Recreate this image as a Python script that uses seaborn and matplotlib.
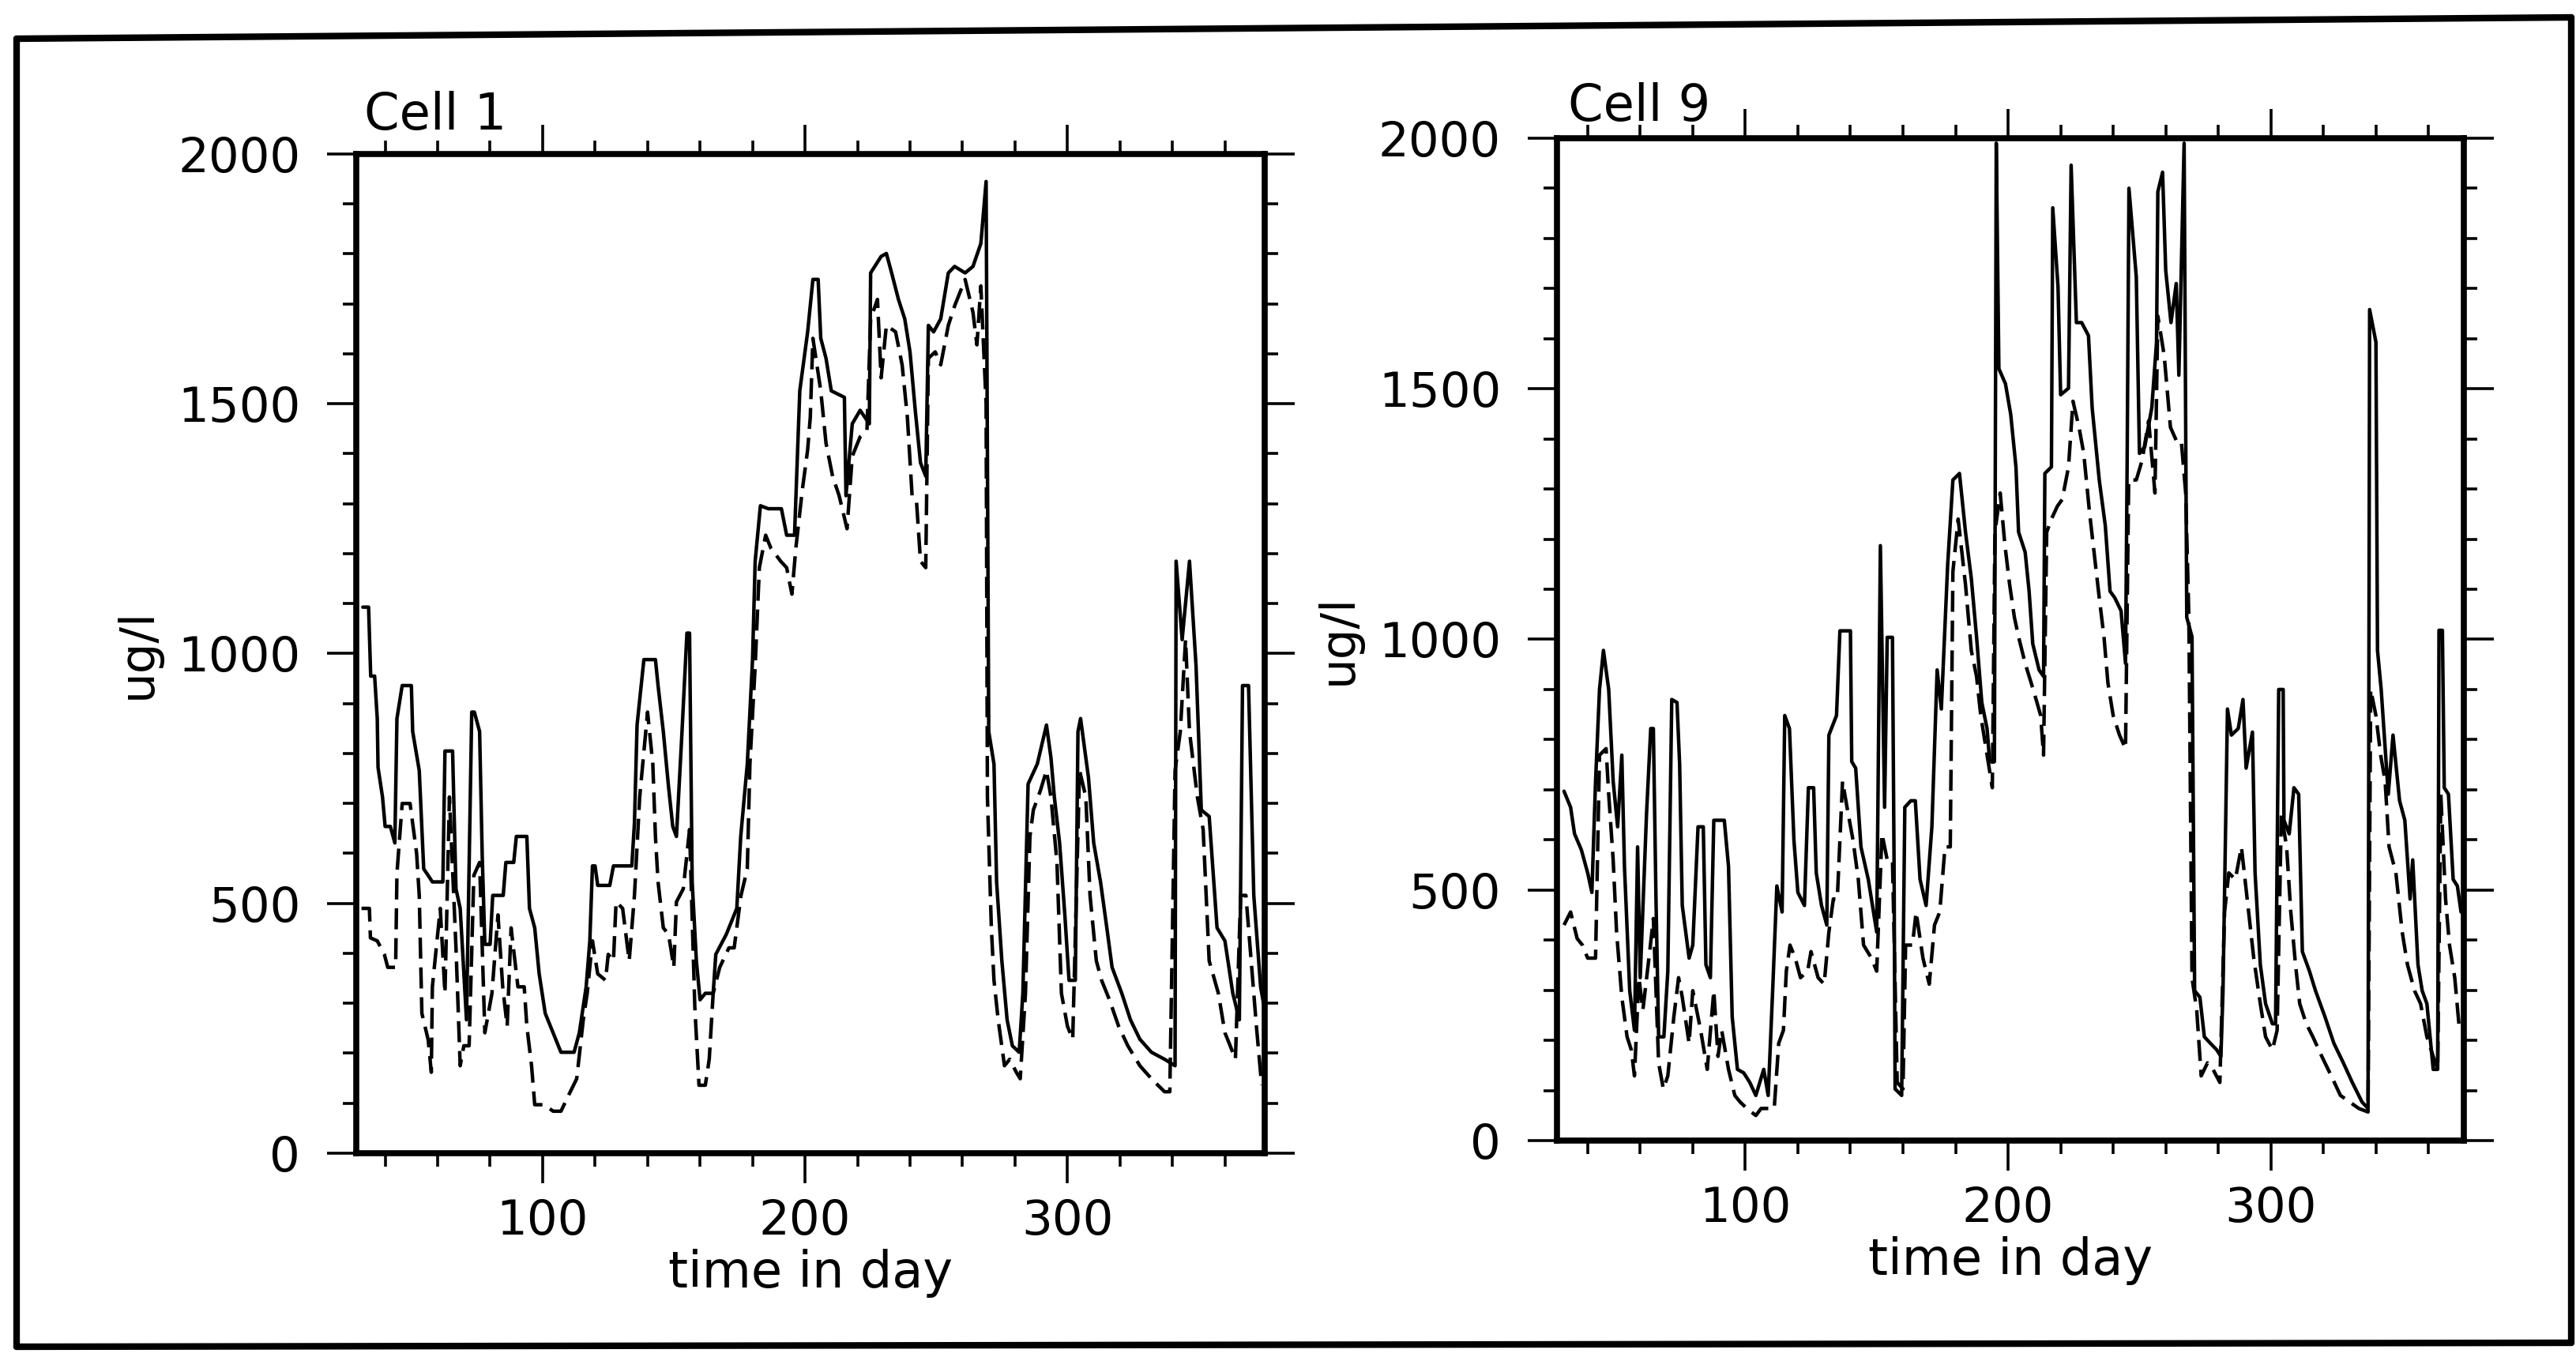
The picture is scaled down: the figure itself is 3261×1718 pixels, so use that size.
import numpy as np
import pandas as pd
import matplotlib
matplotlib.use('Agg')
import matplotlib.pyplot as plt
from matplotlib.lines import Line2D
from matplotlib.ticker import MultipleLocator
import seaborn as sns

# values (day, ug/l)
cell1_solid_day = [31.5, 33.7, 34.5, 36, 37, 37.3, 39, 40, 42, 43.7, 44.5, 46.5, 50, 50.5, 53, 54.7, 56.4, 58, 62,
                   62.8, 65.7, 67, 68.6, 71, 73, 74, 76, 77, 78, 80, 81, 85, 86, 89, 90, 94, 95, 97, 98.7, 101, 104,
                   107, 112, 114, 116.6, 118, 119, 120, 121, 125.6, 127, 134, 135, 136, 138.6, 143, 144, 146, 148,
                   149.6, 151, 153, 155, 156, 157, 158.6, 160, 162, 165, 166, 170, 174, 175.5, 178, 180, 181, 183,
                   186, 191, 193, 196, 197, 198, 201, 203, 205, 206, 208, 210, 215, 215.6, 218, 221, 224.5, 225,
                   229, 231, 233, 235.6, 238, 240, 242, 244, 246, 247, 249, 251.7, 254.6, 257, 261, 264, 267, 269,
                   270, 272, 273, 275, 277, 279, 281.6, 283, 285, 288.5, 292, 293.7, 295, 297, 299, 300.6, 303, 304,
                   305, 308, 310, 312.6, 315, 317, 320.7, 324, 327.6, 332, 337, 341, 341.4, 343.7, 346.5, 349, 351,
                   354, 357, 360, 363, 365.5, 366.7, 369, 371, 373.6, 374.7]
cell1_solid_val = [1093, 1093, 955, 955, 870, 772, 713, 654, 654, 621, 870, 936, 936, 844, 766, 569, 556, 543, 543,
                   805, 805, 529, 490, 267, 883, 883, 844, 595, 418, 418, 516, 516, 582, 582, 634, 634, 490, 451, 359,
                   280, 241, 202, 202, 241, 333, 425, 575, 575, 536, 536, 575, 575, 661, 857, 988, 988, 936, 844, 733,
                   654, 634, 831, 1041, 1041, 543, 385, 307, 320, 320, 398, 438, 490, 634, 779, 988, 1185, 1296,
                   1290, 1290, 1237, 1237, 1382, 1526, 1644, 1749, 1749, 1631, 1591, 1526, 1513, 1316, 1460, 1487,
                   1460, 1762, 1795, 1801, 1762, 1709, 1670, 1604, 1487, 1382, 1355, 1657, 1644, 1670, 1762, 1775,
                   1762, 1775, 1821, 1945, 844, 779, 543, 385, 267, 215, 202, 320, 739, 779, 857, 792, 713, 621, 477,
                   346, 346, 844, 870, 752, 621, 543, 451, 372, 320, 267, 228, 202, 188, 175, 1185, 1028, 1185, 975,
                   687, 674, 451, 425, 320, 267, 936, 936, 516, 333, 300]

cell1_dash_day = [31, 34, 34.4, 37, 39.7, 41, 44, 44.5, 46.5, 49.5, 52, 53, 54, 56.4, 57.6, 58, 61, 62.8, 64.5, 67,
                  68.6, 70, 72, 73.8, 76, 78, 80.7, 83, 84.8, 86.5, 88, 90.6, 93, 94, 95.8, 97, 100.7, 104, 107, 110,
                  113, 115.5, 117, 119, 121, 124, 125, 127, 128, 130.5, 133, 135, 137, 140, 142, 143, 144, 146, 148,
                  150, 151, 153.6, 156, 158, 159.6, 162, 163.5, 165, 167.5, 171, 173, 175.6, 178, 179, 181, 182.6,
                  185, 187, 190.7, 193, 195, 196.5, 199, 201, 202, 203, 206, 208, 210.5, 213, 216, 218, 221, 223.6,
                  225, 227.6, 229, 231, 234.5, 237, 239, 240.8, 242.5, 244, 246, 247, 249.6, 251.7, 254.6, 257, 261,
                  264, 265.5, 267, 269, 269.5, 271, 272, 273.6, 276, 278, 280.5, 282, 284, 285.7, 287, 289.7, 292,
                  293.7, 296, 297.7, 300, 302, 304.6, 307, 308.6, 311, 313, 316, 319.5, 323, 327.6, 332, 337, 339,
                  341, 343, 345, 346.5, 349.5, 351.7, 354, 357.5, 360, 362, 364, 366, 368, 370, 372, 374]
cell1_dash_val = [490, 490, 431, 425, 398, 372, 372, 560, 700, 700, 600, 516, 280, 227, 162, 333, 490, 320, 713, 411,
                  175, 215, 215, 556, 582, 241, 320, 477, 333, 254, 451, 333, 333, 254, 175, 97, 97, 84, 84, 117,
                  149, 267, 320, 425, 359, 346, 398, 385, 503, 490, 385, 516, 713, 883, 779, 634, 543, 451, 438, 372,
                  503, 529, 648, 293, 136, 136, 188, 320, 372, 411, 411, 516, 569, 779, 975, 1172, 1237, 1211, 1185,
                  1172, 1119, 1211, 1329, 1408, 1473, 1631, 1526, 1421, 1355, 1316, 1250, 1395, 1434, 1447, 1670,
                  1709, 1552, 1657, 1644, 1578, 1473, 1316, 1303, 1185, 1172, 1591, 1604, 1578, 1657, 1696, 1749,
                  1683, 1618, 1736, 1500, 713, 451, 346, 267, 175, 188, 162, 149, 320, 634, 687, 726, 766, 713, 582,
                  320, 254, 228, 766, 713, 516, 385, 346, 307, 254, 215, 175, 149, 123, 123, 766, 844, 1028, 844,
                  713, 648, 385, 320, 241, 215, 188, 516, 516, 385, 254, 136]

cell9_solid_day = [31, 33.5, 35, 37.6, 40, 41.6, 43, 44.5, 46, 48, 49.7, 51.4, 53, 54, 56, 57.8, 59, 60, 62.4, 64, 65,
                   66, 67, 69, 70.5, 72, 74, 75, 76, 78.6, 80, 82, 84, 85, 86.7, 88, 92, 93.6, 95, 97, 99.4, 101.7,
                   104, 107, 108.7, 110.4, 112, 114, 115, 116.8, 118.5, 120, 122.5, 124, 126, 127, 129, 131, 131.8,
                   134.7, 136, 140, 140.5, 142, 144, 146.8, 150, 151.4, 153, 154, 156, 156.6, 157, 159.5, 160.7, 163,
                   164.7, 166.5, 168.8, 171, 173, 174.6, 177, 179, 181.5, 183.8, 186, 188, 190, 192, 193, 194.8,
                   195.5, 196.5, 199, 201, 203, 204, 206.5, 208, 209.4, 211.8, 213.5, 214, 216.5, 217, 219, 220, 223,
                   224, 226, 228, 230.6, 232, 234.7, 237, 238.8, 240.6, 243, 244.7, 245.3, 246, 248.8, 250, 252,
                   254.7, 256.5, 257, 258.8, 260, 262, 264, 265, 267, 268, 270, 271, 273, 274.7, 277, 279.4, 281,
                   281.8, 283.5, 285, 287.6, 289.4, 290.6, 293, 294, 296, 298, 300.6, 301.8, 303, 304.7, 305, 307,
                   308.8, 310.6, 312, 314.7, 317, 320.6, 324, 327.6, 331, 334.7, 337, 337.6, 340, 340.6, 342, 344.7,
                   346.5, 349, 351, 353, 354, 356, 357.6, 359.4, 361.8, 363.5, 364, 365.3, 366, 367.6, 369.4, 371,
                   372.4]
cell9_solid_val = [697, 665, 612, 580, 534, 495, 717, 900, 978, 900, 717, 626, 769, 547, 299, 220, 586, 325, 652, 822,
                   822, 482, 207, 207, 338, 880, 874, 750, 469, 364, 390, 626, 626, 351, 325, 639, 639, 547, 247, 142,
                   135, 116, 90, 142, 90, 299, 508, 456, 848, 822, 599, 495, 469, 704, 704, 534, 469, 430, 809, 848,
                   1017, 1017, 756, 743, 586, 521, 416, 1187, 665, 1004, 1004, 560, 103, 90, 665, 678, 678, 521, 469,
                   626, 939, 861, 1148, 1318, 1331, 1214, 1122, 1005, 874, 822, 756, 756, 1990, 1540, 1510, 1449,
                   1344, 1214, 1174, 1096, 991, 939, 926, 1331, 1344, 1861, 1704, 1488, 1501, 1946, 1632, 1632, 1606,
                   1462, 1318, 1227, 1096, 1083, 1057, 952, 1344, 1900, 1723, 1371, 1384, 1462, 1593, 1893, 1932,
                   1736, 1632, 1710, 1527, 1990, 1044, 1005, 299, 286, 207, 194, 181, 168, 299, 861, 809, 822, 880,
                   743, 815, 534, 351, 273, 233, 233, 900, 900, 639, 612, 704, 691, 377, 338, 299, 247, 194, 155, 116,
                   77, 64, 1658, 1593, 978, 900, 691, 809, 678, 639, 482, 560, 351, 299, 273, 142, 142, 1018, 1018,
                   704, 691, 521, 508, 456]

cell9_dash_day = [31, 33.5, 36, 38, 40, 43, 44.5, 47, 48, 49.7, 51, 53, 55, 56.6, 57.8, 59.5, 61, 63.6, 65, 67, 68.8,
                  70.5, 72.8, 74.6, 76, 78.6, 80, 83, 85.5, 88, 89.6, 91, 93.6, 96, 98, 100.6, 104, 106, 108.7, 111,
                  112.7, 114.5, 115.6, 117, 119, 121, 123.7, 125, 127.7, 130, 131.8, 133.5, 135, 137, 138.7, 141, 143,
                  145, 148, 150, 152, 154, 156, 157.8, 160, 161, 163.6, 165, 167.6, 170, 172, 174, 176, 178, 179,
                  181, 183.8, 186, 188, 189.6, 192, 194, 195, 197, 198.8, 200.6, 202.4, 204, 206.5, 208.8, 211,
                  212.4, 213.5, 214.7, 216.5, 218.8, 220.6, 223, 224.7, 227, 228.8, 231, 233, 234.7, 236.5, 238, 240,
                  242.4, 244.7, 245.9, 248.8, 251, 253.5, 255.9, 257, 259.4, 261.8, 264, 265.9, 267.6, 268.8, 270,
                  271.8, 273.5, 275.9, 278, 280.6, 282.4, 284, 286.5, 288.8, 291, 293.5, 296, 298, 300.6, 302.4, 304,
                  306, 307.6, 309.4, 311, 313.5, 316, 319.4, 323, 326.5, 330, 333.5, 337, 338, 340, 341.8, 343.5,
                  345, 347.6, 350, 352, 354.7, 357, 359.4, 361.8, 363.5, 364.7, 366.5, 368, 370, 371.8]
cell9_dash_val = [430, 456, 403, 390, 364, 364, 769, 782, 691, 560, 416, 286, 207, 181, 129, 325, 260, 377, 443, 155,
                  103, 129, 247, 325, 286, 194, 299, 220, 142, 299, 168, 220, 142, 90, 77, 64, 50, 64, 64, 64, 194,
                  220, 338, 390, 364, 325, 338, 377, 325, 312, 416, 482, 482, 717, 665, 599, 521, 390, 364, 338, 612,
                  560, 560, 116, 103, 390, 390, 456, 364, 312, 430, 456, 586, 586, 1135, 1240, 1109, 978, 926, 848,
                  769, 704, 1214, 1292, 1188, 1109, 1044, 1005, 952, 913, 874, 848, 769, 1214, 1240, 1266, 1279,
                  1344, 1475, 1423, 1371, 1253, 1161, 1083, 1005, 913, 848, 809, 782, 1318, 1318, 1357, 1436, 1292,
                  1645, 1567, 1423, 1397, 1397, 1292, 1044, 325, 260, 129, 155, 142, 116, 456, 534, 521, 586, 482,
                  364, 273, 207, 181, 220, 652, 586, 456, 351, 273, 233, 207, 168, 129, 90, 77, 64, 57, 900, 848, 769,
                  717, 586, 534, 416, 351, 299, 273, 207, 168, 142, 691, 482, 390, 325, 220]

panel_titles = ['Cell 1', 'Cell 9']
x_label = 'time in day'
y_label = 'ug/l'

W, H = 3261, 1718

sns.set_style('ticks')
plt.rcParams['font.family'] = ['DejaVu Sans']
plt.rcParams['text.color'] = 'black'
plt.rcParams['axes.labelcolor'] = 'black'
plt.rcParams['xtick.color'] = 'black'
plt.rcParams['ytick.color'] = 'black'

fig = plt.figure(figsize=(W / 100, H / 100), dpi=100)
ax1 = fig.add_axes([0.1383, 0.1502, 0.3527, 0.7363])
ax2 = fig.add_axes([0.6044, 0.1595, 0.3520, 0.7387])

panels = [
    (ax1, cell1_solid_day, cell1_solid_val, cell1_dash_day, cell1_dash_val, (29, 375.2), 0.009, 1.0245),
    (ax2, cell9_solid_day, cell9_solid_val, cell9_dash_day, cell9_dash_val, (28.3, 373.4), 0.012, 1.017),
]

for i, (ax, sd, sv, dd, dv, xlim, tx, ty) in enumerate(panels):
    solid = pd.DataFrame({'day': sd, 'ugl': sv})
    dashed = pd.DataFrame({'day': dd, 'ugl': dv})
    sns.lineplot(data=solid, x='day', y='ugl', ax=ax, color='black', lw=3.2,
                 estimator=None, sort=False)
    sns.lineplot(data=dashed, x='day', y='ugl', ax=ax, color='black', lw=3.2,
                 linestyle=(0, (6, 2.5)), estimator=None, sort=False)

    ax.set_xlim(*xlim)
    ax.set_ylim(0, 2000)
    ax.xaxis.set_major_locator(MultipleLocator(100))
    ax.xaxis.set_minor_locator(MultipleLocator(20))
    ax.yaxis.set_major_locator(MultipleLocator(500))
    ax.yaxis.set_minor_locator(MultipleLocator(100))

    ax.tick_params(which='both', direction='out', top=True, right=True, color='black', width=2.6)
    ax.tick_params(which='major', length=27, labelsize=44, labelcolor='black')
    ax.tick_params(which='minor', length=12)
    ax.tick_params(axis='y', which='major', pad=24)
    ax.tick_params(axis='x', which='major', pad=14)

    for sp in ax.spines.values():
        sp.set_linewidth(5.5)
        sp.set_color('black')

    ax.set_xlabel(x_label, fontsize=46, labelpad=4, color='black')
    ax.set_ylabel(y_label, fontsize=44, color='black')
    ax.yaxis.set_label_coords(-0.215, 0.5)
    ax.text(tx, ty, panel_titles[i], transform=ax.transAxes, fontsize=46,
            ha='left', va='baseline', color='black')

# outer frame of the scanned page
def fig_pt(px, py):
    return px / W, 1 - py / H

frame = [((21, 49), (3255, 22)), ((21, 49), (21, 1705)),
         ((21, 1705), (3255, 1700)), ((3255, 22), (3255, 1700))]
for a, b in frame:
    (x0, y0), (x1, y1) = fig_pt(*a), fig_pt(*b)
    fig.add_artist(Line2D([x0, x1], [y0, y1], transform=fig.transFigure,
                          color='black', lw=6))

fig.savefig('out.png', dpi=100, facecolor='white')
